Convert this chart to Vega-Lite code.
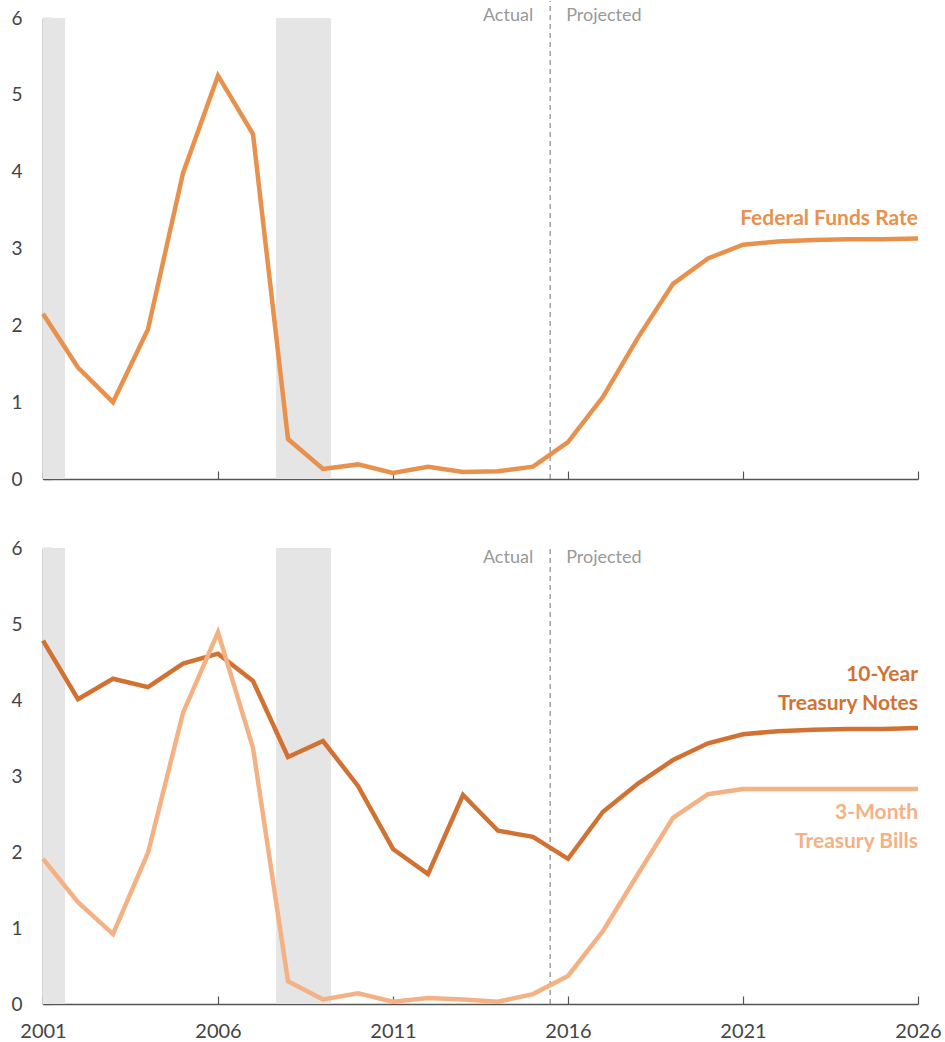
{
  "$schema": "https://vega.github.io/schema/vega-lite/v6.json",
  "padding": {"left": 10, "top": 0, "right": 5, "bottom": 5},
  "background": "white",
  "spacing": 50,
  "config": {
    "view": {"stroke": null},
    "font": "Lato",
    "axis": {
      "labelFont": "Lato",
      "labelFontSize": 19,
      "labelColor": "#444444",
      "domainColor": "#555555",
      "domainWidth": 1.5,
      "tickColor": "#555555",
      "tickWidth": 1.2,
      "grid": false,
      "title": null,
      "labelFlush": false
    }
  },
  "datasets": {
    "ffr": [
      {"year": 2001, "value": 2.15}, {"year": 2002, "value": 1.45}, {"year": 2003, "value": 1.0},
      {"year": 2004, "value": 1.95}, {"year": 2005, "value": 3.98}, {"year": 2006, "value": 5.25},
      {"year": 2007, "value": 4.49}, {"year": 2008, "value": 0.52}, {"year": 2009, "value": 0.13},
      {"year": 2010, "value": 0.19}, {"year": 2011, "value": 0.08}, {"year": 2012, "value": 0.16},
      {"year": 2013, "value": 0.09}, {"year": 2014, "value": 0.1}, {"year": 2015, "value": 0.16},
      {"year": 2016, "value": 0.48}, {"year": 2017, "value": 1.07}, {"year": 2018, "value": 1.84},
      {"year": 2019, "value": 2.54}, {"year": 2020, "value": 2.87}, {"year": 2021, "value": 3.05},
      {"year": 2022, "value": 3.09}, {"year": 2023, "value": 3.11}, {"year": 2024, "value": 3.12},
      {"year": 2025, "value": 3.12}, {"year": 2026, "value": 3.13}
    ],
    "treasury": [
      {"year": 2001, "series": "10-Year Treasury Notes", "value": 4.78},
      {"year": 2002, "series": "10-Year Treasury Notes", "value": 4.01},
      {"year": 2003, "series": "10-Year Treasury Notes", "value": 4.28},
      {"year": 2004, "series": "10-Year Treasury Notes", "value": 4.17},
      {"year": 2005, "series": "10-Year Treasury Notes", "value": 4.48},
      {"year": 2006, "series": "10-Year Treasury Notes", "value": 4.61},
      {"year": 2007, "series": "10-Year Treasury Notes", "value": 4.25},
      {"year": 2008, "series": "10-Year Treasury Notes", "value": 3.25},
      {"year": 2009, "series": "10-Year Treasury Notes", "value": 3.46},
      {"year": 2010, "series": "10-Year Treasury Notes", "value": 2.87},
      {"year": 2011, "series": "10-Year Treasury Notes", "value": 2.04},
      {"year": 2012, "series": "10-Year Treasury Notes", "value": 1.71},
      {"year": 2013, "series": "10-Year Treasury Notes", "value": 2.75},
      {"year": 2014, "series": "10-Year Treasury Notes", "value": 2.28},
      {"year": 2015, "series": "10-Year Treasury Notes", "value": 2.2},
      {"year": 2016, "series": "10-Year Treasury Notes", "value": 1.91},
      {"year": 2017, "series": "10-Year Treasury Notes", "value": 2.53},
      {"year": 2018, "series": "10-Year Treasury Notes", "value": 2.9},
      {"year": 2019, "series": "10-Year Treasury Notes", "value": 3.21},
      {"year": 2020, "series": "10-Year Treasury Notes", "value": 3.43},
      {"year": 2021, "series": "10-Year Treasury Notes", "value": 3.55},
      {"year": 2022, "series": "10-Year Treasury Notes", "value": 3.59},
      {"year": 2023, "series": "10-Year Treasury Notes", "value": 3.61},
      {"year": 2024, "series": "10-Year Treasury Notes", "value": 3.62},
      {"year": 2025, "series": "10-Year Treasury Notes", "value": 3.62},
      {"year": 2026, "series": "10-Year Treasury Notes", "value": 3.63},
      {"year": 2001, "series": "3-Month Treasury Bills", "value": 1.91},
      {"year": 2002, "series": "3-Month Treasury Bills", "value": 1.34},
      {"year": 2003, "series": "3-Month Treasury Bills", "value": 0.92},
      {"year": 2004, "series": "3-Month Treasury Bills", "value": 1.99},
      {"year": 2005, "series": "3-Month Treasury Bills", "value": 3.83},
      {"year": 2006, "series": "3-Month Treasury Bills", "value": 4.89},
      {"year": 2007, "series": "3-Month Treasury Bills", "value": 3.37},
      {"year": 2008, "series": "3-Month Treasury Bills", "value": 0.3},
      {"year": 2009, "series": "3-Month Treasury Bills", "value": 0.06},
      {"year": 2010, "series": "3-Month Treasury Bills", "value": 0.14},
      {"year": 2011, "series": "3-Month Treasury Bills", "value": 0.03},
      {"year": 2012, "series": "3-Month Treasury Bills", "value": 0.08},
      {"year": 2013, "series": "3-Month Treasury Bills", "value": 0.06},
      {"year": 2014, "series": "3-Month Treasury Bills", "value": 0.03},
      {"year": 2015, "series": "3-Month Treasury Bills", "value": 0.13},
      {"year": 2016, "series": "3-Month Treasury Bills", "value": 0.37},
      {"year": 2017, "series": "3-Month Treasury Bills", "value": 0.96},
      {"year": 2018, "series": "3-Month Treasury Bills", "value": 1.71},
      {"year": 2019, "series": "3-Month Treasury Bills", "value": 2.45},
      {"year": 2020, "series": "3-Month Treasury Bills", "value": 2.76},
      {"year": 2021, "series": "3-Month Treasury Bills", "value": 2.83},
      {"year": 2022, "series": "3-Month Treasury Bills", "value": 2.83},
      {"year": 2023, "series": "3-Month Treasury Bills", "value": 2.83},
      {"year": 2024, "series": "3-Month Treasury Bills", "value": 2.83},
      {"year": 2025, "series": "3-Month Treasury Bills", "value": 2.83},
      {"year": 2026, "series": "3-Month Treasury Bills", "value": 2.83}
    ],
    "recessions": [
      {"start": 2001, "end": 2001.63},
      {"start": 2007.66, "end": 2009.23}
    ],
    "one": [{}]
  },
  "vconcat": [
    {
      "width": 875,
      "height": 461,
      "layer": [
        {
          "data": {"name": "recessions"},
          "mark": {"type": "rect", "color": "#e5e5e5"},
          "encoding": {
            "x": {"field": "start", "type": "quantitative", "scale": {"domain": [2001, 2026], "nice": false, "zero": false},
                  "axis": {"values": [2001, 2006, 2011, 2016, 2021, 2026], "labels": false, "tickSize": -8}},
            "x2": {"field": "end"},
            "y": {"datum": 0, "type": "quantitative", "scale": {"domain": [0, 6], "nice": false},
                  "axis": {"values": [0, 1, 2, 3, 4, 5, 6], "format": "d", "tickSize": -8, "labelPadding": 29}},
            "y2": {"datum": 6}
          }
        },
        {
          "data": {"name": "one"},
          "mark": {"type": "rule", "color": "#888888", "strokeDash": [5, 4], "strokeWidth": 1.2, "clip": false},
          "encoding": {"x": {"datum": 2015.49, "type": "quantitative"}, "y": {"datum": 0, "type": "quantitative"}, "y2": {"datum": 6.22}}
        },
        {
          "data": {"name": "ffr"},
          "mark": {"type": "line", "color": "#e8914d", "strokeWidth": 4.5, "strokeJoin": "miter"},
          "encoding": {
            "x": {"field": "year", "type": "quantitative"},
            "y": {"field": "value", "type": "quantitative"}
          }
        },
        {
          "data": {"name": "one"},
          "mark": {"type": "text", "text": "Actual", "align": "right", "baseline": "middle", "dx": -17, "fontSize": 18, "color": "#999999", "font": "Lato"},
          "encoding": {"x": {"datum": 2015.49, "type": "quantitative"}, "y": {"datum": 6.03, "type": "quantitative"}}
        },
        {
          "data": {"name": "one"},
          "mark": {"type": "text", "text": "Projected", "align": "left", "baseline": "middle", "dx": 16, "fontSize": 18, "color": "#999999", "font": "Lato"},
          "encoding": {"x": {"datum": 2015.49, "type": "quantitative"}, "y": {"datum": 6.03, "type": "quantitative"}}
        },
        {
          "data": {"name": "one"},
          "mark": {"type": "text", "text": "Federal Funds Rate", "align": "right", "baseline": "bottom", "dy": -10, "fontSize": 21, "fontWeight": "bold", "color": "#e8914d", "font": "Lato"},
          "encoding": {"x": {"datum": 2026, "type": "quantitative"}, "y": {"datum": 3.13, "type": "quantitative"}}
        }
      ]
    },
    {
      "width": 875,
      "height": 456,
      "layer": [
        {
          "data": {"name": "recessions"},
          "mark": {"type": "rect", "color": "#e5e5e5"},
          "encoding": {
            "x": {"field": "start", "type": "quantitative", "scale": {"domain": [2001, 2026], "nice": false, "zero": false},
                  "axis": {"values": [2001, 2006, 2011, 2016, 2021, 2026], "format": "d", "tickSize": -8, "labelPadding": 25, "labelFontSize": 20}},
            "x2": {"field": "end"},
            "y": {"datum": 0, "type": "quantitative", "scale": {"domain": [0, 6], "nice": false},
                  "axis": {"values": [0, 1, 2, 3, 4, 5, 6], "format": "d", "tickSize": -8, "labelPadding": 29}},
            "y2": {"datum": 6}
          }
        },
        {
          "data": {"name": "one"},
          "mark": {"type": "rule", "color": "#888888", "strokeDash": [5, 4], "strokeWidth": 1.2},
          "encoding": {"x": {"datum": 2015.49, "type": "quantitative"}, "y": {"datum": 0, "type": "quantitative"}, "y2": {"datum": 6}}
        },
        {
          "data": {"name": "treasury"},
          "mark": {"type": "line", "strokeWidth": 4.5, "strokeJoin": "miter"},
          "encoding": {
            "x": {"field": "year", "type": "quantitative"},
            "y": {"field": "value", "type": "quantitative"},
            "color": {"field": "series", "type": "nominal", "legend": null,
                      "scale": {"domain": ["10-Year Treasury Notes", "3-Month Treasury Bills"], "range": ["#d17232", "#f4b183"]}}
          }
        },
        {
          "data": {"name": "one"},
          "mark": {"type": "text", "text": "Actual", "align": "right", "baseline": "middle", "dx": -17, "fontSize": 18, "color": "#999999", "font": "Lato"},
          "encoding": {"x": {"datum": 2015.49, "type": "quantitative"}, "y": {"datum": 5.87, "type": "quantitative"}}
        },
        {
          "data": {"name": "one"},
          "mark": {"type": "text", "text": "Projected", "align": "left", "baseline": "middle", "dx": 16, "fontSize": 18, "color": "#999999", "font": "Lato"},
          "encoding": {"x": {"datum": 2015.49, "type": "quantitative"}, "y": {"datum": 5.87, "type": "quantitative"}}
        },
        {
          "data": {"name": "one"},
          "mark": {"type": "text", "text": ["10-Year", "Treasury Notes"], "align": "right", "baseline": "top", "lineHeight": 29, "dy": -64, "fontSize": 21, "fontWeight": "bold", "color": "#d17232", "font": "Lato"},
          "encoding": {"x": {"datum": 2026, "type": "quantitative"}, "y": {"datum": 3.63, "type": "quantitative"}}
        },
        {
          "data": {"name": "one"},
          "mark": {"type": "text", "text": ["3-Month", "Treasury Bills"], "align": "right", "baseline": "top", "lineHeight": 29, "dy": 13, "fontSize": 21, "fontWeight": "bold", "color": "#f4b183", "font": "Lato"},
          "encoding": {"x": {"datum": 2026, "type": "quantitative"}, "y": {"datum": 2.83, "type": "quantitative"}}
        }
      ]
    }
  ]
}
